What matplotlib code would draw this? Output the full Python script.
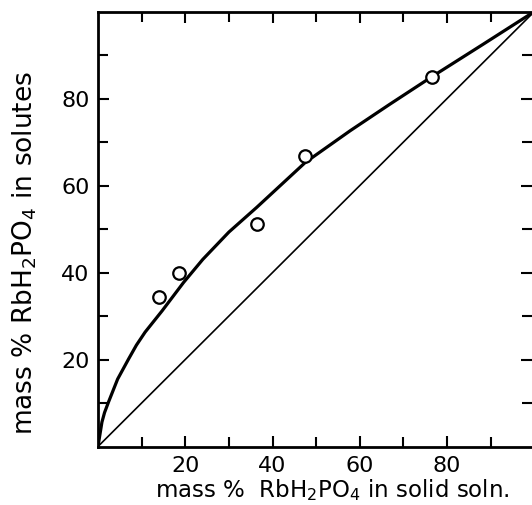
import numpy as np
import matplotlib
matplotlib.use("Agg")
import matplotlib.pyplot as plt
from matplotlib.ticker import FixedLocator

# measured points (mass % RbH2PO4 in solid soln., in solutes)
x_pts = [13.9, 18.5, 36.5, 47.5, 76.5]
y_pts = [34.3, 39.9, 51.1, 66.7, 84.9]

# drawn curve
x_curve = [0, 0.9, 1.5, 2.4, 4.5, 7.0, 8.8, 10.8, 14.7, 19.6, 24.0, 30.0,
           36.4, 47.5, 57.8, 66.9, 76.5, 88.3, 100]
y_curve = [0, 5.6, 7.8, 10.2, 15.5, 20.1, 23.3, 26.3, 31.2, 37.7, 43.0,
           49.3, 55.0, 65.3, 72.6, 78.7, 85.0, 92.5, 100]

# diagonal x = y
x_diag = [0, 100]
y_diag = [0, 100]

major_ticks = [20, 40, 60, 80]
minor_ticks = [10, 30, 50, 70, 90]

plt.rcParams['font.family'] = ['DejaVu Sans']

fig = plt.figure(figsize=(5.32, 5.06), dpi=100)
ax = fig.add_axes([98 / 532, 58.5 / 506, 1 - 98 / 532, 435 / 506])

ax.plot(x_diag, y_diag, color='black', lw=1.2, zorder=2)
ax.plot(x_curve, y_curve, color='black', lw=2.3, zorder=3,
        solid_capstyle='round', solid_joinstyle='round')
ax.plot(x_pts, y_pts, 'o', ms=9, mfc='white', mec='black', mew=1.6,
        zorder=4, clip_on=False)

ax.set_xlim(0, 99.45)
ax.set_ylim(0, 100)

ax.xaxis.set_major_locator(FixedLocator(major_ticks))
ax.xaxis.set_minor_locator(FixedLocator(minor_ticks))
ax.yaxis.set_major_locator(FixedLocator(major_ticks))
ax.yaxis.set_minor_locator(FixedLocator(minor_ticks))

ax.tick_params(which='both', direction='in', top=True, right=True,
               width=1.5, color='black')
ax.tick_params(which='major', length=8, labelsize=16, pad=6)
ax.tick_params(which='minor', length=7)

for side in ['left', 'top', 'bottom']:
    ax.spines[side].set_linewidth(2)
ax.spines['right'].set_visible(False)

ax.set_xlabel(r'mass %  RbH$_2$PO$_4$ in solid soln.', fontsize=16.5)
ax.set_ylabel(r'mass % RbH$_2$PO$_4$ in solutes', fontsize=19)
ax.xaxis.set_label_coords(0.539, -0.068)
ax.yaxis.set_label_coords(-0.135, 0.447)

fig.savefig('out.png', dpi=100)
